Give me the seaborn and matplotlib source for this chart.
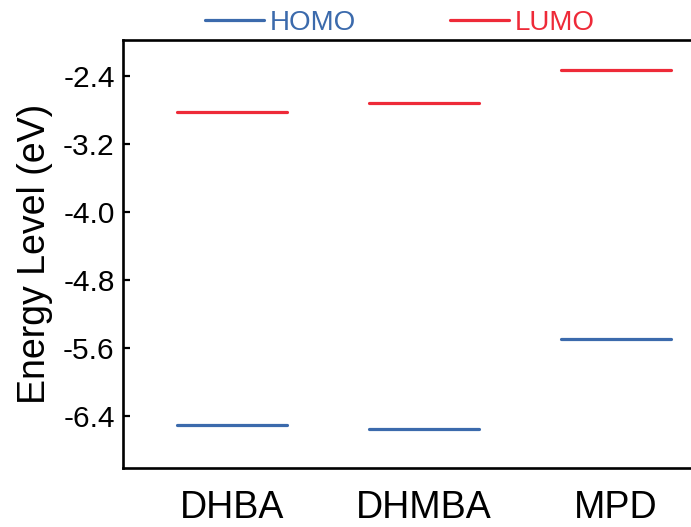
import numpy as np
import pandas as pd
import matplotlib
matplotlib.use("Agg")
import matplotlib.pyplot as plt
from matplotlib.lines import Line2D
import seaborn as sns

# Frontier orbital energies (eV)
compounds = ["DHBA", "DHMBA", "MPD"]
homo = [-6.51, -6.55, -5.49]
lumo = [-2.82, -2.72, -2.33]
yticks = [-2.4, -3.2, -4.0, -4.8, -5.6, -6.4]

blue = "#3B6AAC"
red = "#EE2A38"
half = 0.286  # half-length of each level segment in category units

rows = []
for i, name in enumerate(compounds):
    for orb, vals in (("HOMO", homo), ("LUMO", lumo)):
        for dx in (-half, half):
            rows.append({"compound": name, "orbital": orb, "seg": f"{name}-{orb}",
                         "x": i + dx, "energy": vals[i]})
df = pd.DataFrame(rows)

sns.set_theme(style="white")
plt.rcParams["font.family"] = ["Liberation Sans", "DejaVu Sans"]

fig = plt.figure(figsize=(6.91, 5.27), dpi=100)
ax = fig.add_axes([123 / 691, 1 - 468 / 527, 1 - 123 / 691, (468 - 40) / 527])

sns.lineplot(data=df, x="x", y="energy", hue="orbital", units="seg",
             estimator=None, palette={"HOMO": blue, "LUMO": red},
             linewidth=2.3, legend=False, ax=ax)

ax.set_xlim(-0.568, 2.391)
ax.set_ylim(-7.01, -1.976)
ax.set_yticks(yticks)
ax.set_yticklabels([f"{v:.1f}" for v in yticks])
ax.set_xticks(range(len(compounds)))
ax.set_xticklabels(compounds)

for side in ("left", "bottom", "top"):
    ax.spines[side].set_color("black")
    ax.spines[side].set_linewidth(1.9)
ax.spines["right"].set_visible(False)

ax.tick_params(axis="y", direction="in", length=5, width=1.6, colors="black",
               labelsize=21.5, pad=6, left=True)
ax.tick_params(axis="x", length=0, labelsize=27, pad=16, colors="black")

ax.set_xlabel("")
ax.set_ylabel("Energy Level (eV)", fontsize=27, color="black", labelpad=7)

handles = [Line2D([], [], color=blue, lw=2.3), Line2D([], [], color=red, lw=2.3)]
fig.legend(handles, ["HOMO", "LUMO"], loc="center", bbox_to_anchor=(400 / 691, 1 - 23 / 527),
           ncol=2, frameon=False, fontsize=20, handlelength=2.1, handletextpad=0.22,
           columnspacing=3.4, labelcolor="linecolor")

fig.savefig("out.png", dpi=100)
